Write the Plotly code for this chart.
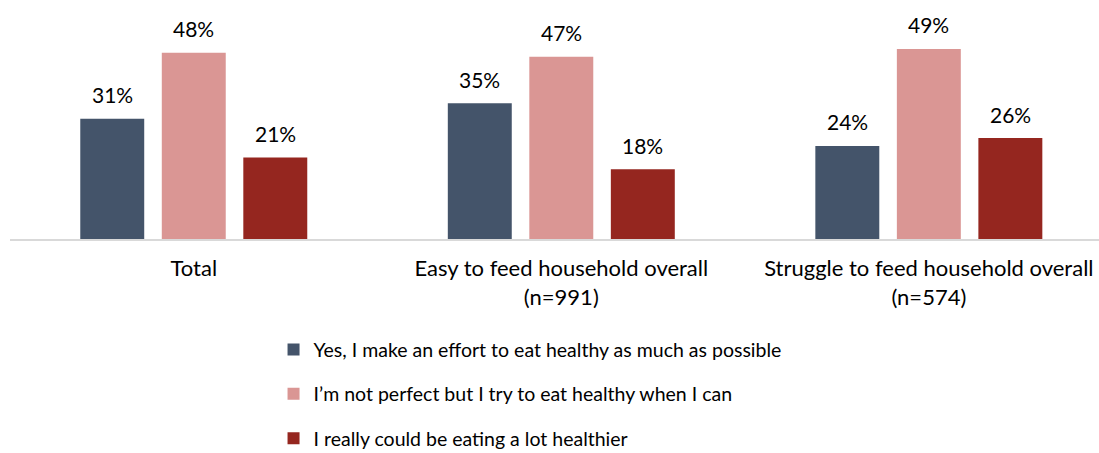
import plotly.graph_objects as go

# Survey groups along the x axis
categories = ["Total", "Easy to feed household overall<br>(n=991)", "Struggle to feed household overall<br>(n=574)"]

# Share of respondents per answer (percent)
series_names = [
    "Yes, I make an effort to eat healthy as much as possible",
    "I\u2019m not perfect but I try to eat healthy when I can",
    "I really could be eating a lot healthier",
]
yes_effort = [31, 35, 24]
not_perfect = [48, 47, 49]
could_be_healthier = [21, 18, 26]

series_values = [yes_effort, not_perfect, could_be_healthier]
colors = ["#44546A", "#DA9694", "#95261F"]

FONT = "Lato"
bar_width = 0.174
slot = 0.2218
x_pos = list(range(len(categories)))

fig = go.Figure()
annotations = []
for i, (name, vals, col) in enumerate(zip(series_names, series_values, colors)):
    offset = -1.5 * slot + (slot - bar_width) / 2 + i * slot
    fig.add_trace(go.Bar(
        x=x_pos, y=vals, name=name,
        marker=dict(color=col, line=dict(width=0)),
        width=bar_width, offset=offset,
        legendgroup=f"g{i}",
        hoverinfo="skip",
    ))
    for xi, v in zip(x_pos, vals):
        annotations.append(dict(
            x=xi + offset + bar_width / 2, y=v, xref="x", yref="y",
            text=f"{v}%", showarrow=False, yanchor="middle", yshift=24,
            font=dict(family=FONT, size=21, color="#000000"),
        ))

fig.update_layout(
    width=1099, height=453,
    margin=dict(l=10, r=0, t=0, b=214, autoexpand=False),
    paper_bgcolor="white", plot_bgcolor="white",
    barmode="overlay",
    showlegend=True,
    legend=dict(
        orientation="v", x=0.242, xanchor="left", y=-0.382, yanchor="top",
        font=dict(family=FONT, size=19.5, color="#000000"),
        tracegroupgap=16, traceorder="grouped",
        itemwidth=30, bgcolor="rgba(0,0,0,0)",
    ),
    annotations=annotations,
    xaxis=dict(
        tickmode="array", tickvals=x_pos, ticktext=categories,
        range=[-0.5, 2.463],
        showline=True, linecolor="#D9D9D9", linewidth=2,
        ticks="outside", ticklen=9, tickcolor="rgba(0,0,0,0)",
        tickfont=dict(family=FONT, size=22, color="#000000"),
        showgrid=False, zeroline=False,
    ),
    yaxis=dict(
        range=[0, 61.6], visible=False, showgrid=False, zeroline=False,
    ),
)

fig.write_html("out.html")
